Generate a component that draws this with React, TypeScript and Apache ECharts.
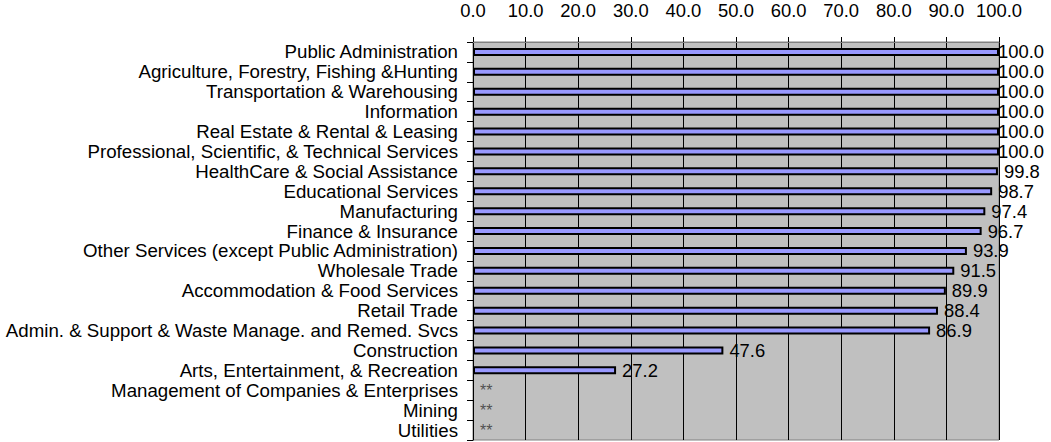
import React, { useEffect, useRef } from "react";
import * as echarts from "echarts";

const categories = [
  "Public Administration",
  "Agriculture, Forestry, Fishing &Hunting",
  "Transportation & Warehousing",
  "Information",
  "Real Estate & Rental & Leasing",
  "Professional, Scientific, & Technical Services",
  "HealthCare & Social Assistance",
  "Educational Services",
  "Manufacturing",
  "Finance & Insurance",
  "Other Services (except Public Administration)",
  "Wholesale Trade",
  "Accommodation & Food Services",
  "Retail Trade",
  "Admin. & Support & Waste Manage. and Remed. Svcs",
  "Construction",
  "Arts, Entertainment, & Recreation",
  "Management of Companies & Enterprises",
  "Mining",
  "Utilities",
];

const values: (number | null)[] = [
  100.0, 100.0, 100.0, 100.0, 100.0, 100.0, 99.8, 98.7, 97.4, 96.7, 93.9, 91.5,
  89.9, 88.4, 86.9, 47.6, 27.2, null, null, null,
];

const suppressedMark = "**";

export default function App() {
  const ref = useRef<HTMLDivElement>(null);
  useEffect(() => {
    if (!ref.current) return;
    const chart = echarts.init(ref.current, null, { renderer: "svg" });
    const font = "'Liberation Sans', Arial, sans-serif";
    const valueFont = 18.4;
    const noteData = categories
      .map((c, i) => (values[i] === null ? [0, c] : null))
      .filter((d) => d !== null);
    const barData = values.map((v) =>
      v === null
        ? null
        : { value: v, label: { distance: v >= 100 ? -1 : 6 } }
    );
    chart.setOption({
      animation: false,
      textStyle: { fontFamily: font },
      grid: {
        left: 473,
        right: 52,
        top: 42,
        bottom: 2,
        show: true,
        backgroundColor: "#C0C0C0",
        borderColor: "#808080",
        borderWidth: 1,
      },
      xAxis: {
        type: "value",
        position: "top",
        min: 0,
        max: 100,
        interval: 10,
        axisLine: { show: true, lineStyle: { color: "#808080", width: 1 } },
        axisTick: { show: true, length: 5, lineStyle: { color: "#000" } },
        axisLabel: {
          color: "#000",
          fontSize: valueFont,
          fontFamily: font,
          margin: 23,
          formatter: (v: number) => v.toFixed(1),
        },
        splitLine: { show: true, lineStyle: { color: "#000", width: 1 } },
      },
      yAxis: {
        type: "category",
        data: categories,
        inverse: true,
        axisLine: { show: true, lineStyle: { color: "#000", width: 1 } },
        axisTick: { show: true, length: 6, lineStyle: { color: "#000" } },
        axisLabel: {
          color: "#000",
          fontSize: 18.7,
          fontFamily: font,
          margin: 15,
          interval: 0,
        },
        splitLine: { show: false },
      },
      series: [
        {
          type: "bar",
          data: barData,
          barWidth: 8,
          itemStyle: { color: "#9999FF", borderColor: "#000", borderWidth: 2 },
          label: {
            show: true,
            position: "right",
            distance: 6,
            color: "#000",
            fontSize: valueFont,
            fontFamily: font,
            formatter: (p: any) => (p.value == null ? "" : Number(p.value).toFixed(1)),
          },
        },
        {
          type: "scatter",
          data: noteData,
          symbolSize: 0,
          label: {
            show: true,
            position: "right",
            distance: 7,
            color: "#333",
            fontSize: 16,
            fontFamily: font,
            formatter: () => suppressedMark,
          },
        },
      ],
    });
    return () => chart.dispose();
  }, []);
  return (
    <div
      ref={ref}
      style={{ position: "absolute", left: 0, top: 0, width: 1051, height: 442 }}
    />
  );
}
